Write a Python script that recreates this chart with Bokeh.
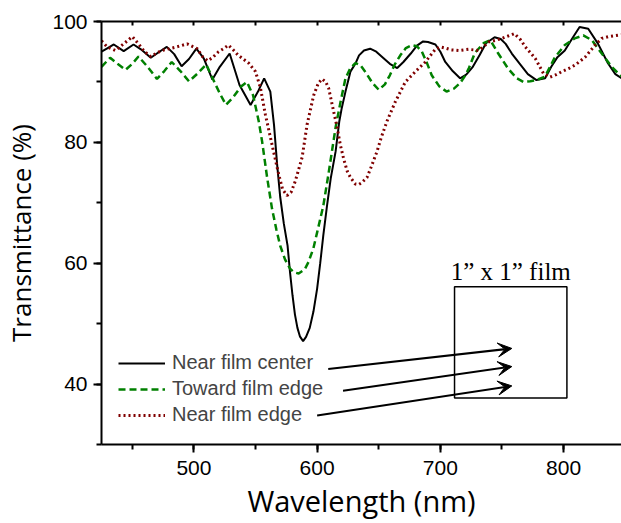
from bokeh.plotting import figure
from bokeh.models import (Range1d, LinearAxis, SingleIntervalTicker, Legend, LegendItem,
                          Arrow, VeeHead, BoxAnnotation, Label, CustomJSTickFormatter)
from bokeh.embed import file_html
from bokeh.resources import INLINE

# ---------------- data ----------------
center_wl = [425, 430, 435, 443, 451, 457, 465, 472, 478, 484, 490, 496, 502, 508, 515, 521,
             529, 537, 546, 552, 557, 562, 565, 567.5, 570, 573, 576, 578, 580, 582, 584, 586,
             588.6, 591, 594, 597, 600, 602.5, 605, 608, 611, 615, 618, 620, 623, 627, 631,
             634, 638, 643, 648, 653, 659, 665, 670, 676, 681, 686, 690, 696, 700, 704, 710,
             716, 721, 726, 732, 737, 744, 749, 753, 758, 764, 771, 778, 785, 790, 795, 801,
             807, 813, 820, 828, 836, 842, 850]
center_T = [95.0, 95.6, 96.2, 95.1, 96.2, 95.4, 94.0, 95.0, 95.8, 94.6, 92.6, 93.8, 95.5, 93.9,
            90.4, 92.5, 94.7, 89.5, 86.2, 88.4, 90.6, 88.4, 82.9, 76.4, 71.0, 66.5, 62.9, 58.5,
            54.7, 51.5, 49.3, 47.9, 47.1, 47.8, 49.3, 52.0, 55.8, 60.0, 64.6, 69.5, 74.0, 78.5,
            83.5, 85.7, 88.4, 91.7, 93.0, 94.4, 95.2, 95.5, 95.0, 94.1, 93.0, 92.3, 93.3, 94.7,
            96.0, 96.7, 96.6, 96.2, 95.0, 93.3, 91.8, 90.6, 91.2, 92.4, 94.5, 96.4, 97.4, 97.1,
            96.3, 94.7, 93.1, 91.3, 90.3, 90.6, 92.5, 94.1, 95.2, 97.2, 99.1, 98.8, 96.3, 93.1,
            91.3, 90.2]

toward_wl = [425, 432, 438, 444.5, 450, 455, 462, 470, 476, 482, 489, 496, 503, 510, 517, 521,
             526, 532, 538, 543, 548, 552.6, 555.3, 559.4, 563.4, 567, 570, 574, 578, 581,
             585, 590, 593, 597, 600, 605, 609, 612, 615, 619, 623, 627, 631, 635, 639, 645,
             650, 655, 659, 663, 667.5, 672, 677, 681, 685, 689, 693, 699, 705, 711, 716, 720,
             723, 728, 735, 740.5, 747, 755, 762, 767.5, 773, 778, 785, 789, 793, 801, 809,
             816, 823, 831, 839, 846, 850]
toward_T = [92.5, 94.0, 93.0, 92.0, 93.0, 94.2, 92.6, 90.5, 91.8, 93.3, 91.8, 90.1, 91.4, 92.9,
            89.8, 88.1, 86.2, 87.5, 89.2, 90.0, 87.8, 83.5, 80.2, 74.2, 69.0, 65.5, 62.9, 60.6,
            59.1, 58.5, 58.3, 59.0, 60.2, 62.5, 65.1, 69.5, 74.5, 78.5, 82.5, 86.7, 90.6, 92.3,
            93.1, 92.8, 91.7, 89.8, 88.7, 89.6, 91.1, 92.9, 94.4, 95.6, 96.1, 95.9, 95.0, 93.2,
            91.1, 89.3, 88.4, 88.9, 89.8, 91.0, 92.2, 94.8, 96.4, 96.9, 94.7, 92.2, 90.6, 90.0,
            90.1, 90.3, 90.9, 92.5, 94.1, 96.1, 97.2, 97.7, 96.9, 94.7, 92.5, 91.1, 90.5]

edge_wl = [425, 429.6, 436.4, 443, 450, 455, 460, 465, 470, 474, 480, 486, 494.5, 502.6, 507,
           511, 515, 520, 524, 528, 532, 536, 544.5, 550, 554, 558, 563.4, 568.8, 572, 575.6,
           579, 582.3, 587.8, 591.8, 597.2, 601, 604, 607, 609.3, 613.4, 616.2, 618.8, 621.5,
           624.3, 627, 631, 633.5, 636, 640.5, 644, 648.6, 652, 656.7, 663.4, 671.6, 679.7,
           687.8, 695.9, 700, 704, 709, 714.8, 722.9, 731, 735, 739, 745, 750, 755, 760, 765,
           769, 777, 783.7, 789, 794, 798.6, 804, 809.4, 817.5, 825.6, 831, 836.5, 846, 850]
edge_T = [96.8, 95.8, 95.2, 96.3, 97.5, 96.3, 95.0, 94.2, 94.8, 95.2, 95.5, 95.8, 96.3, 95.5,
          94.2, 93.5, 94.0, 95.0, 95.5, 96.1, 95.3, 94.4, 93.1, 91.7, 89.0, 84.6, 79.6, 74.7,
          72.2, 71.2, 71.8, 73.6, 77.5, 82.9, 87.8, 89.8, 90.5, 90.0, 89.0, 85.1, 82.5, 79.6,
          77.3, 75.3, 74.2, 73.1, 73.0, 73.3, 74.2, 76.0, 78.5, 80.8, 83.5, 86.7, 90.0, 91.7,
          93.3, 95.4, 95.8, 95.6, 95.3, 95.2, 95.4, 95.2, 95.8, 96.6, 96.9, 97.2, 97.6, 98.0,
          97.0, 95.8, 93.9, 91.4, 90.8, 91.2, 91.7, 92.2, 92.8, 94.1, 96.1, 97.2, 97.5, 97.8, 97.9]

series_labels = ["Near film center", "Toward film edge", "Near film edge"]

# film sketch (box in data units) and the arrows pointing into it
box_left, box_right, box_bottom, box_top = 711.5, 802.7, 37.7, 56.1
box_title = "1\u201d x 1\u201d film"
arrow_x_start = [609.0, 621.0, 600.0]
arrow_y_start = [42.5, 38.9, 34.8]
arrow_x_end = [758.0, 758.0, 758.0]
arrow_y_end = [45.9, 42.9, 39.7]

# ---------------- figure ----------------
p = figure(width=621, height=522, output_backend="svg", toolbar_location=None,
           x_range=Range1d(425, 847), y_range=Range1d(30, 100),
           x_axis_label="Wavelength (nm)", y_axis_label="Transmittance (%)",
           min_border_left=101, min_border_right=0, min_border_top=21, min_border_bottom=75)
p.outline_line_color = None
p.grid.visible = False
p.background_fill_color = "white"
p.border_fill_color = "white"

r1 = p.line(center_wl, center_T, line_color="black", line_width=2)
r2 = p.line(toward_wl, toward_T, line_color="#008000", line_width=2.5, line_dash="7 4")
r3 = p.line(edge_wl, edge_T, line_color="#800000", line_width=3, line_dash="2 3")

xa = p.xaxis[0]
xa.ticker = SingleIntervalTicker(interval=100, num_minor_ticks=2)
ya = p.yaxis[0]
ya.ticker = SingleIntervalTicker(interval=20, num_minor_ticks=2)
for ax in (xa, ya):
    ax.axis_line_width = 2
    ax.axis_line_color = "black"
    ax.major_tick_line_width = 2
    ax.minor_tick_line_width = 2
    ax.major_tick_out = 8
    ax.major_tick_in = 0
    ax.minor_tick_out = 5
    ax.minor_tick_in = 0
    ax.major_label_text_font = "Liberation Sans"
    ax.major_label_text_font_size = "21px"
    ax.major_label_text_color = "black"
    ax.axis_label_text_font = "Open Sans"
    ax.axis_label_text_font_style = "normal"
    ax.axis_label_text_color = "black"
xa.axis_label_text_font_size = "29px"
ya.axis_label_text_font_size = "26px"
xa.major_label_standoff = 8
xa.axis_label_standoff = 3
ya.major_label_standoff = 6
ya.axis_label_standoff = 10

# top frame line with small inward ticks
top = LinearAxis(ticker=SingleIntervalTicker(interval=50, num_minor_ticks=0),
                 formatter=CustomJSTickFormatter(code="return ''"),
                 major_tick_in=4, major_tick_out=0, minor_tick_in=0, minor_tick_out=0,
                 axis_line_width=2, major_tick_line_width=2, major_label_standoff=0)
p.add_layout(top, "above")

legend = Legend(items=[LegendItem(label=series_labels[0], renderers=[r1]),
                       LegendItem(label=series_labels[1], renderers=[r2]),
                       LegendItem(label=series_labels[2], renderers=[r3])],
                location=(17, 18), orientation="vertical",
                label_text_font="Liberation Sans", label_text_font_size="20px",
                glyph_width=47, glyph_height=20, label_height=20, spacing=3,
                label_standoff=7, padding=0, margin=0,
                border_line_alpha=0, background_fill_alpha=0)
p.add_layout(legend, "center")

p.add_layout(BoxAnnotation(left=box_left, right=box_right, bottom=box_bottom, top=box_top,
                           fill_alpha=0, line_color="black", line_alpha=1, line_width=1.5))
p.add_layout(Label(x=(box_left + box_right) / 2, y=box_top, text=box_title, y_offset=2,
                   text_align="center", text_baseline="bottom",
                   text_font="Liberation Serif", text_font_size="25px", text_color="black"))

for xs, ys, xe, ye in zip(arrow_x_start, arrow_y_start, arrow_x_end, arrow_y_end):
    p.add_layout(Arrow(x_start=xs, y_start=ys, x_end=xe, y_end=ye, line_width=2,
                       line_color="black",
                       end=VeeHead(size=14, fill_color="black", line_color="black")))

open("out.html", "w").write(file_html(p, INLINE))
